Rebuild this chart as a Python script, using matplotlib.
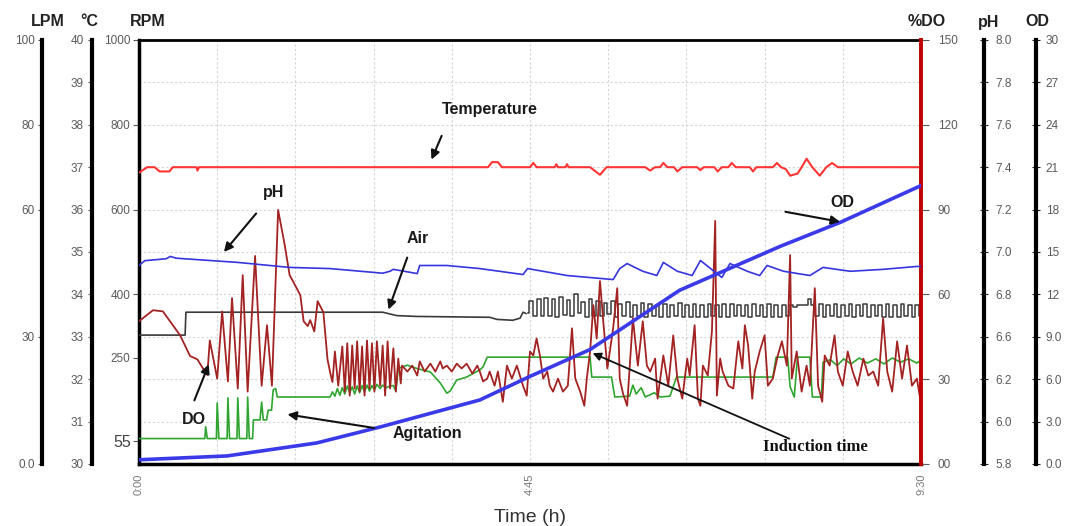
import matplotlib
matplotlib.use('Agg')
import numpy as np
import matplotlib.pyplot as plt
from matplotlib.ticker import MultipleLocator

plt.rcParams['font.family'] = ['Liberation Sans', 'DejaVu Sans']

# ---------------- data (time in hours) ----------------
# Temperature (degC)
temp_t = [0.00, 0.10, 0.19, 0.25, 0.37, 0.41, 0.70, 0.71, 0.73, 4.24,
          4.29, 4.36, 4.41, 4.75, 4.79, 4.83, 5.05, 5.07, 5.09, 5.18,
          5.20, 5.22, 5.48, 5.60, 5.68, 6.15, 6.21, 6.27, 6.33, 6.37,
          6.42, 6.50, 6.54, 6.60, 6.78, 6.82, 6.86, 6.99, 7.03, 7.08,
          7.16, 7.20, 7.25, 7.42, 7.46, 7.50, 7.70, 7.75, 7.80, 7.86,
          7.91, 8.00, 8.05, 8.11, 8.18, 8.27, 8.35, 8.42, 8.49, 9.50]
temp_c = [36.87, 37.0, 37.0, 36.9, 36.9, 37.0, 37.0, 36.92, 37.0, 37.0,
          37.12, 37.12, 37.0, 37.0, 37.1, 37.0, 37.0, 37.07, 37.0, 37.0,
          37.07, 37.0, 37.0, 36.82, 37.0, 37.0, 36.92, 37.0, 37.0, 37.1,
          37.0, 37.0, 36.9, 37.0, 37.0, 36.93, 37.0, 37.0, 36.9, 37.0,
          37.0, 37.1, 37.0, 37.0, 36.9, 37.0, 37.0, 37.1, 37.0, 36.95,
          36.8, 36.85, 37.0, 37.2, 37.0, 36.8, 37.0, 37.1, 37.0, 37.0]

# pH
ph_t = [0, 0.07, 0.33, 0.38, 0.45, 1.2, 1.83, 2.32, 2.96, 3.05,
        3.09, 3.38, 3.41, 3.74, 4.14, 4.665, 4.72, 5.20, 5.76, 5.84,
        5.93, 6.12, 6.29, 6.37, 6.54, 6.72, 6.82, 7.08, 7.18, 7.39,
        7.54, 7.63, 7.83, 8.15, 8.31, 8.64, 9.04, 9.45, 9.5]
ph_v = [6.83, 6.855, 6.865, 6.877, 6.868, 6.846, 6.82, 6.814, 6.79, 6.80,
        6.81, 6.788, 6.83, 6.83, 6.814, 6.783, 6.814, 6.778, 6.757, 6.814,
        6.84, 6.80, 6.778, 6.846, 6.80, 6.778, 6.856, 6.768, 6.84, 6.80,
        6.778, 6.83, 6.80, 6.778, 6.82, 6.80, 6.81, 6.825, 6.825]

# Air (LPM)
air_t = [0.00, 0.56, 0.57, 2.96, 3.13, 3.38, 4.26, 4.35, 4.54, 4.63, 4.665, 4.70]
air_lpm = [30.4, 30.4, 35.8, 35.8, 35.0, 34.8, 34.6, 34.1, 33.9, 34.4, 35.8, 35.5]
# Air controller cycling, logged 4.72 h -> 9.5 h
air_osc = [35.5, 38.5, 35.0, 39.0, 34.8, 39.2, 35.0, 38.8, 34.6, 39.5,
           35.2, 38.6, 34.8, 40.0, 35.5, 38.2, 34.6, 39.0, 35.0, 38.5,
           34.8, 38.0, 35.4, 38.4, 34.6, 37.8, 34.8, 38.2, 34.6, 37.6,
           35.0, 38.0, 34.6, 37.8, 34.8, 37.5, 34.6, 37.8, 34.6, 37.6,
           34.8, 38.0, 34.6, 37.5, 34.6, 37.8, 34.7, 37.6, 34.6, 37.8,
           34.8, 37.5, 34.6, 37.7, 34.6, 37.8, 34.8, 37.6, 35.0, 37.5,
           34.6, 37.7, 34.8, 37.6, 34.6, 37.8, 34.7, 37.5, 34.6, 37.6,
           35.0, 37.4, 37.0, 37.4, 37.5, 37.6, 38.8, 37.6, 35.0, 37.8,
           34.6, 37.6, 34.8, 37.8, 34.6, 37.5, 34.8, 37.7, 34.6, 37.6,
           34.8, 37.8, 34.6, 37.5, 34.8, 37.6, 34.6, 37.8, 34.7, 37.6,
           34.6, 37.7, 34.8, 37.6, 34.6, 37.5, 34.8]
air_osc_t = np.linspace(4.72, 9.5, len(air_osc))

# Dissolved oxygen (%DO)
do_t = [0.00, 0.17, 0.29, 0.50, 0.62, 0.71, 0.80, 0.83, 0.86, 0.95,
        1.01, 1.08, 1.13, 1.20, 1.26, 1.32, 1.41, 1.49, 1.555, 1.615,
        1.69, 1.77, 1.83, 1.87, 1.96, 2.00, 2.05, 2.08, 2.13, 2.17,
        2.24, 2.29, 2.32, 2.35, 2.38, 2.42, 2.47, 2.50, 2.53, 2.56,
        2.59, 2.62, 2.65, 2.68, 2.71, 2.74, 2.77, 2.80, 2.83, 2.86,
        2.89, 2.93, 2.96, 2.99, 3.02, 3.05, 3.09, 3.12, 3.15, 3.18,
        3.195, 3.26, 3.32, 3.38, 3.41, 3.47, 3.54, 3.60, 3.66, 3.69,
        3.74, 3.80, 3.86, 3.92, 3.98, 4.05, 4.11, 4.14, 4.18, 4.23,
        4.26, 4.32, 4.36, 4.42, 4.47, 4.53, 4.59, 4.665, 4.71, 4.75,
        4.79, 4.83, 4.87, 4.91, 4.96, 4.99, 5.03, 5.09, 5.15, 5.21,
        5.26, 5.30, 5.36, 5.41, 5.44, 5.48, 5.52, 5.56, 5.60, 5.64,
        5.69, 5.72, 5.76, 5.81, 5.84, 5.88, 5.93, 6.00, 6.06, 6.12,
        6.17, 6.21, 6.27, 6.30, 6.37, 6.43, 6.49, 6.54, 6.60, 6.66,
        6.69, 6.75, 6.79, 6.82, 6.85, 6.91, 6.96, 7.00, 7.02, 7.06,
        7.09, 7.16, 7.22, 7.28, 7.33, 7.36, 7.40, 7.45, 7.48, 7.54,
        7.60, 7.64, 7.70, 7.76, 7.81, 7.87, 7.91, 7.93, 7.99, 8.05,
        8.11, 8.15, 8.21, 8.25, 8.30, 8.33, 8.39, 8.45, 8.49, 8.55,
        8.61, 8.67, 8.73, 8.80, 8.86, 8.92, 8.98, 9.04, 9.09, 9.15,
        9.21, 9.27, 9.33, 9.39, 9.45, 9.49]
do_v = [50.5, 54.4, 54.0, 45.5, 38.2, 37.0, 32.7, 31.5, 43.7, 30.2,
        54.0, 29.2, 58.7, 26.7, 66.8, 25.6, 73.6, 27.7, 49.1, 27.7,
        89.9, 77.5, 66.8, 64.7, 59.7, 50.5, 48.8, 50.9, 46.9, 57.6,
        53.7, 37.0, 32.7, 29.0, 39.8, 27.7, 41.6, 25.6, 42.7, 24.2,
        41.9, 26.7, 43.4, 25.6, 41.6, 24.2, 43.7, 26.7, 42.7, 25.6,
        43.4, 27.7, 41.9, 24.2, 43.4, 26.7, 40.9, 25.6, 37.3, 28.5,
        34.8, 32.7, 34.8, 31.3, 36.3, 32.7, 35.5, 32.7, 36.3, 33.8,
        34.8, 32.7, 35.5, 33.8, 35.5, 32.0, 34.8, 32.7, 29.2, 30.2,
        32.7, 27.7, 32.7, 22.0, 34.8, 30.2, 34.8, 27.7, 24.2, 39.8,
        38.4, 44.4, 38.4, 30.2, 32.7, 27.7, 25.6, 30.2, 25.6, 27.7,
        48.0, 30.2, 25.6, 20.6, 30.2, 39.8, 56.2, 44.4, 64.7, 50.5,
        33.8, 39.8, 48.0, 62.2, 30.2, 24.9, 20.6, 51.5, 34.8, 50.5,
        34.8, 32.7, 37.3, 23.1, 38.4, 27.7, 45.5, 30.2, 23.1, 37.3,
        31.3, 49.1, 23.1, 20.6, 34.8, 31.3, 46.9, 86.0, 24.2, 37.3,
        32.7, 27.7, 26.7, 43.4, 33.8, 49.1, 41.9, 23.1, 32.7, 39.8,
        45.5, 27.7, 30.2, 38.4, 43.4, 34.8, 73.9, 30.2, 39.8, 25.6,
        34.8, 27.7, 62.2, 27.7, 22.0, 38.4, 34.8, 45.5, 32.7, 27.7,
        39.8, 32.7, 27.7, 37.3, 31.3, 32.7, 27.7, 51.5, 32.7, 25.6,
        43.4, 30.2, 41.9, 27.7, 30.2, 23.1]

# Agitation (RPM)
agit_t = [0.00, 0.80, 0.81, 0.83, 0.94, 0.95, 0.97, 1.07, 1.08, 1.10,
          1.19, 1.20, 1.22, 1.31, 1.32, 1.34, 1.38, 1.39, 1.47, 1.49,
          1.51, 1.55, 1.57, 1.61, 1.63, 1.66, 1.68, 2.32, 2.35, 2.38,
          2.41, 2.44, 2.47, 2.50, 2.53, 2.56, 2.59, 2.62, 2.65, 2.68,
          2.71, 2.74, 2.77, 2.80, 2.83, 2.86, 2.89, 2.93, 2.96, 3.00,
          3.05, 3.09, 3.12, 3.15, 3.26, 3.38, 3.54, 3.66, 3.74, 3.78,
          3.86, 3.98, 4.14, 4.18, 4.23, 5.48, 5.50, 5.74, 5.78, 5.96,
          6.00, 6.04, 6.10, 6.15, 6.26, 6.33, 6.45, 6.53, 7.70, 7.74,
          7.88, 7.91, 7.96, 8.00, 8.15, 8.18, 8.29, 8.31, 8.40, 8.48,
          8.56, 8.65, 8.75, 8.85, 8.95, 9.05, 9.15, 9.25, 9.35, 9.45, 9.50]
agit_rpm = [60, 60, 88, 60, 60, 144, 60, 60, 156, 60,
            60, 156, 60, 60, 158, 60, 60, 104, 104, 146,
            104, 104, 127, 127, 175, 178, 158, 158, 170, 160,
            178, 162, 180, 165, 184, 168, 182, 165, 184, 168,
            185, 170, 186, 172, 185, 175, 188, 178, 186, 180,
            184, 185, 172, 226, 233, 225, 217, 191, 167, 172,
            198, 205, 222, 229, 252, 252, 205, 205, 158, 160,
            186, 165, 180, 158, 168, 158, 160, 205, 205, 252,
            252, 182, 158, 252, 252, 158, 158, 240, 246, 232,
            248, 236, 250, 238, 248, 236, 250, 240, 248, 238, 245]

# Optical density
od_t = [0, 1.07, 2.16, 2.93, 4.14, 4.75, 5.48, 6.57, 7.79, 8.52, 9.5]
od_v = [0.3, 0.57, 1.49, 2.62, 4.53, 6.2, 8.1, 12.3, 15.4, 17.1, 19.7]

# axis ticks / labels
lpm_ticks = [0, 30, 60, 80, 100]
lpm_labels = ['0.0', '30', '60', '80', '100']
degc_ticks = list(range(30, 41))
rpm_ticks = [55, 250, 400, 600, 800, 1000]
do_ticks = [0, 30, 60, 90, 120, 150]
do_labels = ['00', '30', '60', '90', '120', '150']
ph_labels = ['5.8', '6.0', '6.2', '6.6', '6.8', '7.0', '7.2', '7.4', '7.6', '7.8', '8.0']
od_ticks = list(range(0, 31, 3))
od_labels = ['0.0', '3.0', '6.0', '9.0', '12', '15', '18', '21', '24', '27', '30']
time_ticks = [0, 4.75, 9.5]
time_labels = ['0:00', '4:45', '9:30']

grey = '#5a5a5a'

fig = plt.figure(figsize=(10.67, 5.26), dpi=100)
ax = fig.add_axes([139 / 1067, 62 / 526, 782 / 1067, 424 / 526])


def side_axis(host, side, pos, color='black', lw=3):
    a = host.twinx()
    for s in ['top', 'bottom', 'left', 'right']:
        a.spines[s].set_visible(False)
    a.spines[side].set_visible(True)
    a.spines[side].set_position(('axes', pos))
    a.spines[side].set_linewidth(lw)
    a.spines[side].set_color(color)
    a.yaxis.set_ticks_position(side)
    return a


# host axis: RPM / agitation
ax.set_xlim(0, 9.5)
ax.set_ylim(0, 1000)
ax.plot(agit_t, agit_rpm, color='#2fa52f', lw=1.2, zorder=3)
ax.set_xticks(time_ticks)
ax.set_xticklabels(time_labels, rotation=90, fontsize=8, color='#777777')
ax.set_yticks(rpm_ticks)
ax.set_yticklabels([str(v) for v in rpm_ticks], fontsize=8.5, color=grey)
ax.get_yticklabels()[0].set_fontsize(11.5)
ax.get_yticklabels()[0].set_color('#444444')
ax.xaxis.set_minor_locator(MultipleLocator(0.95))
ax.yaxis.set_minor_locator(MultipleLocator(100))
ax.xaxis.remove_overlapping_locs = False
ax.yaxis.remove_overlapping_locs = False
ax.grid(which='minor', color='#d4d4d4', lw=0.8, ls=(0, (2, 2)))
ax.tick_params(which='minor', length=0)
ax.tick_params(axis='x', which='major', length=0, pad=7)
ax.tick_params(axis='y', which='major', length=4, color=grey, pad=2)
ax.spines['right'].set_visible(False)
ax.spines['left'].set_linewidth(2.5)
ax.spines['bottom'].set_linewidth(2.5)
ax.spines['top'].set_linewidth(2)
ax.set_xlabel('Time (h)', fontsize=14, color='#333333', labelpad=10)

# LPM / air
ax_l = side_axis(ax, 'left', -0.124)
ax_l.set_ylim(0, 100)
ax_l.set_yticks(lpm_ticks)
ax_l.set_yticklabels(lpm_labels)
ax_l.tick_params(axis='y', length=3, color=grey, labelcolor=grey, labelsize=8.5, pad=2)
ax_l.plot(air_t, air_lpm, color='#3a3a3a', lw=1.2)
ax_l.plot(air_osc_t, air_osc, color='#3a3a3a', lw=1.1, drawstyle='steps-mid')

# degC / temperature
ax_c = side_axis(ax, 'left', -0.060)
ax_c.set_ylim(30, 40)
ax_c.set_yticks(degc_ticks)
ax_c.tick_params(axis='y', length=3, color=grey, labelcolor=grey, labelsize=8.5, pad=3)
ax_c.plot(temp_t, temp_c, color='#ff3535', lw=1.5)

# %DO
ax_do = side_axis(ax, 'right', 1.0, color='#c00000', lw=2.8)
ax_do.set_ylim(0, 150)
ax_do.set_yticks(do_ticks)
ax_do.set_yticklabels(do_labels)
ax_do.tick_params(axis='y', length=6, color=grey, labelcolor=grey, labelsize=8.5, pad=6)
ax_do.plot(do_t, do_v, color='#a32222', lw=1.3)

# pH
ax_ph = side_axis(ax, 'right', 1.0806)
ax_ph.set_ylim(5.8, 8.0)
ax_ph.set_yticks(np.linspace(5.8, 8.0, len(ph_labels)))
ax_ph.set_yticklabels(ph_labels)
ax_ph.tick_params(axis='y', direction='inout', length=6, color='#222222',
                  labelcolor=grey, labelsize=8.5, pad=5)
ax_ph.plot(ph_t, ph_v, color='#3535dd', lw=1.2)

# OD
ax_od = side_axis(ax, 'right', 1.147)
ax_od.set_ylim(0, 30)
ax_od.set_yticks(od_ticks)
ax_od.set_yticklabels(od_labels)
ax_od.tick_params(axis='y', direction='inout', length=6, color='#222222',
                  labelcolor=grey, labelsize=8.5, pad=4)
ax_od.plot(od_t, od_v, color='#3a3ae8', lw=2.6)

# annotations (host coordinates: hours, RPM)
notes = [
    ('Temperature', (4.26, 835), (3.69, 780), (3.54, 712)),
    ('pH', (1.63, 641), (1.445, 596), (1.01, 495)),
    ('Air', (3.38, 533), (3.27, 493), (3.02, 358)),
    ('OD', (8.54, 617), (7.82, 596), (8.55, 570)),
    ('DO', (0.67, 104), (0.66, 144), (0.86, 241)),
    ('Agitation', (3.50, 73), (2.89, 84), (1.77, 118)),
]
for label, txt, tail, head in notes:
    ax_od.text(txt[0], txt[1], label, transform=ax.transData, ha='center', va='center',
               fontsize=11.5, fontweight='bold', color='#1a1a1a')
    ax_od.annotate('', xy=head, xytext=tail, xycoords=ax.transData, textcoords=ax.transData,
                   arrowprops=dict(arrowstyle='-|>', color='#111111', lw=1.5, mutation_scale=13))
ax_od.text(8.22, 40, 'Induction time', transform=ax.transData, ha='center', va='center',
           fontsize=12, fontweight='bold', family='Liberation Serif', color='#111111')
ax_od.annotate('', xy=(5.48, 264), xytext=(7.93, 57), xycoords=ax.transData,
               textcoords=ax.transData,
               arrowprops=dict(arrowstyle='-|>', color='#111111', lw=1.3, mutation_scale=12))

# axis titles on top
for label, xpx in [('LPM', 48), ('°C', 89), ('RPM', 148), ('%DO', 927), ('pH', 989), ('OD', 1037)]:
    fig.text(xpx / 1067, 1 - 22 / 526, label, ha='center', va='center',
             fontsize=11.5, fontweight='bold', color='#222222')

fig.savefig('out.png', dpi=100)
